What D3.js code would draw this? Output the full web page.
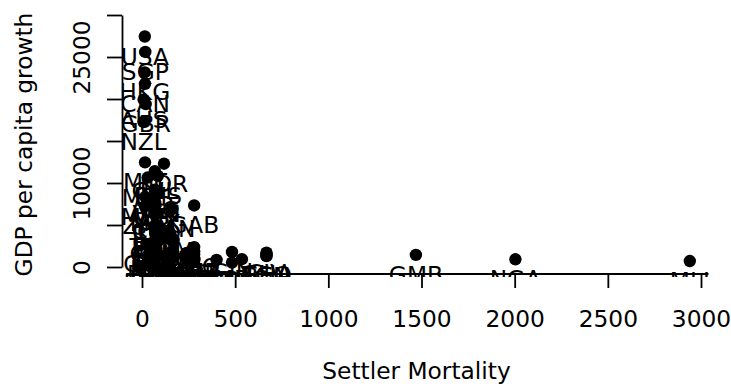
<!DOCTYPE html>
<html>
<head>
<meta charset="utf-8">
<script src="https://cdn.jsdelivr.net/npm/d3@7"></script>
<style>
  body { margin: 0; background: white; }
  text { font-family: "DejaVu Sans", sans-serif; }
</style>
</head>
<body>
<div id="visualization"></div>
<script>
let w = 731;
let h = 387;
let fontSize = 23.3;

// country codes, settler mortality, gdp per capita
let codes = ["USA","SGP","HKG","CAN","AUS","GBR","NZL","MLT","KOR","CHL","BHS","MUS","ARG","VEN","MYS","URY","MEX","ZAF","GAB","PAN","COL","CRI","TTO","BRA",
  "TUN","ECU","PER","DZA","DOM","GTM","PRY","JAM","IDN","MAR","EGY","SLV","BOL","GUY","AGO","LKA","HND","NIC","CMR","GIN","CIV","COG","SEN","GHA","PAK",
  "IND","SDN","MRT","GMB","VNM","TGO","BEN","HTI","KEN","UGA","BGD","ZAR","BFA","MDG","TCD","NGA","NER","BDI","MLI","SLE","TZA","ETH"];
let mortality = [15,17.7,14.9,16.1,8.55,20,8.55,16.3,118,68.9,85,30.5,68.9,78.1,17.7,71,71,15.5,280,163.3,71,78.1,85,71,
  63,71,71,78.2,130,71,78.1,130,170,78.2,67.8,78.1,71,32.18,280,69.8,78.1,163.3,280,483,668,240,164.66,668,36.99,
  48.63,88.2,280,1470,140,668,668,130,145,280,71.41,240,280,536.04,280,2004,400,280,2940,483,145,26];
let gdp = [27440,25600,23160,21810,19930,19400,17300,12460,12300,11400,10850,10650,9210,8690,8350,8350,7630,7260,7330,6900,6700,6570,6440,6190,
  4820,4770,4450,4400,4270,3980,3680,3600,3200,3100,2840,2840,2780,2700,2370,2270,2190,1880,1810,1790,1700,1670,1640,1590,1560,
  1530,1500,1500,1440,1450,1370,1290,1270,1160,1060,973,960,944,934,934,916,837,713,713,518,518,450];

let xTicks = [0,500,1000,1500,2000,2500,3000];
let yTicks = [0,5000,10000,15000,20000,25000,30000];
let yTickLabels = [0,10000,25000];

let plotLeft = 122, plotRight = 711, plotBottom = 274;

let viz = d3.select("#visualization")
  .append("svg")
  .attr("width", w)
  .attr("height", h)
  .style("background-color", "white");

let xScale = d3.scaleLinear().domain([0,3000]).range([142,701]);
let yScale = d3.scaleLinear().domain([0,30000]).range([267,15]);

// labels are cut at the bottom of the plot area
viz.append("clipPath").attr("id","plotclip")
  .append("rect")
  .attr("x", plotLeft).attr("y", 0)
  .attr("width", plotRight-plotLeft).attr("height", plotBottom+3);

// x axis
let xAxis = d3.axisBottom(xScale).tickValues(xTicks).tickSize(14).tickSizeOuter(0)
  .tickFormat(d => String(d));
let xAxisGroup = viz.append("g")
  .attr("transform", "translate(0,"+plotBottom+")")
  .call(xAxis);
xAxisGroup.select(".domain").remove();
xAxisGroup.selectAll("line").attr("stroke","black").attr("stroke-width",1.8);
xAxisGroup.selectAll("text")
  .attr("y", 53).attr("dy", 0)
  .attr("fill","black")
  .style("font-size", fontSize+"px");

// y axis
let yAxis = d3.axisLeft(yScale).tickValues(yTicks).tickSize(15).tickSizeOuter(0)
  .tickFormat(d => yTickLabels.includes(d) ? String(d) : "");
let yAxisGroup = viz.append("g")
  .attr("transform", "translate("+plotLeft+",0)")
  .call(yAxis);
yAxisGroup.select(".domain").attr("stroke","black").attr("stroke-width",1.8);
yAxisGroup.selectAll("line").attr("stroke","black").attr("stroke-width",1.8);
yAxisGroup.selectAll("text")
  .attr("transform","rotate(-90)")
  .attr("x", 0).attr("y", -32).attr("dy", 0)
  .attr("text-anchor","middle")
  .attr("fill","black")
  .style("font-size", fontSize+"px");

// axis titles
viz.append("text")
  .text("Settler Mortality")
  .attr("x", (plotLeft+plotRight)/2)
  .attr("y", 379)
  .attr("text-anchor","middle")
  .style("font-size", fontSize+"px");

viz.append("text")
  .text("GDP per capita growth")
  .attr("transform","translate(32,"+((15+plotBottom)/2)+") rotate(-90)")
  .attr("text-anchor","middle")
  .style("font-size", fontSize+"px");

let incomingData = codes.map((c,i) => ({code: c, mort: mortality[i], gdp: gdp[i]}));

viz.append("g").attr("clip-path","url(#plotclip)")
  .selectAll(".datapoint").data(incomingData).enter()
  .append("circle")
  .attr("class","datapoint")
  .attr("cx", d => xScale(d.mort))
  .attr("cy", d => yScale(d.gdp))
  .attr("r", 6.2)
  .attr("fill","black");

viz.append("g").attr("clip-path","url(#plotclip)")
  .selectAll(".label").data(incomingData).enter()
  .append("text")
  .attr("class","label")
  .text(d => d.code)
  .attr("x", d => xScale(d.mort))
  .attr("y", d => yScale(d.gdp)+28)
  .attr("text-anchor","middle")
  .attr("fill","black")
  .style("font-size", fontSize+"px");

// horizontal line along the bottom of the plot, drawn over the labels
viz.append("line")
  .attr("x1", xScale(-85)).attr("x2", xScale(3040))
  .attr("y1", plotBottom).attr("y2", plotBottom)
  .attr("stroke","black").attr("stroke-width",1.8);
</script>
</body>
</html>
